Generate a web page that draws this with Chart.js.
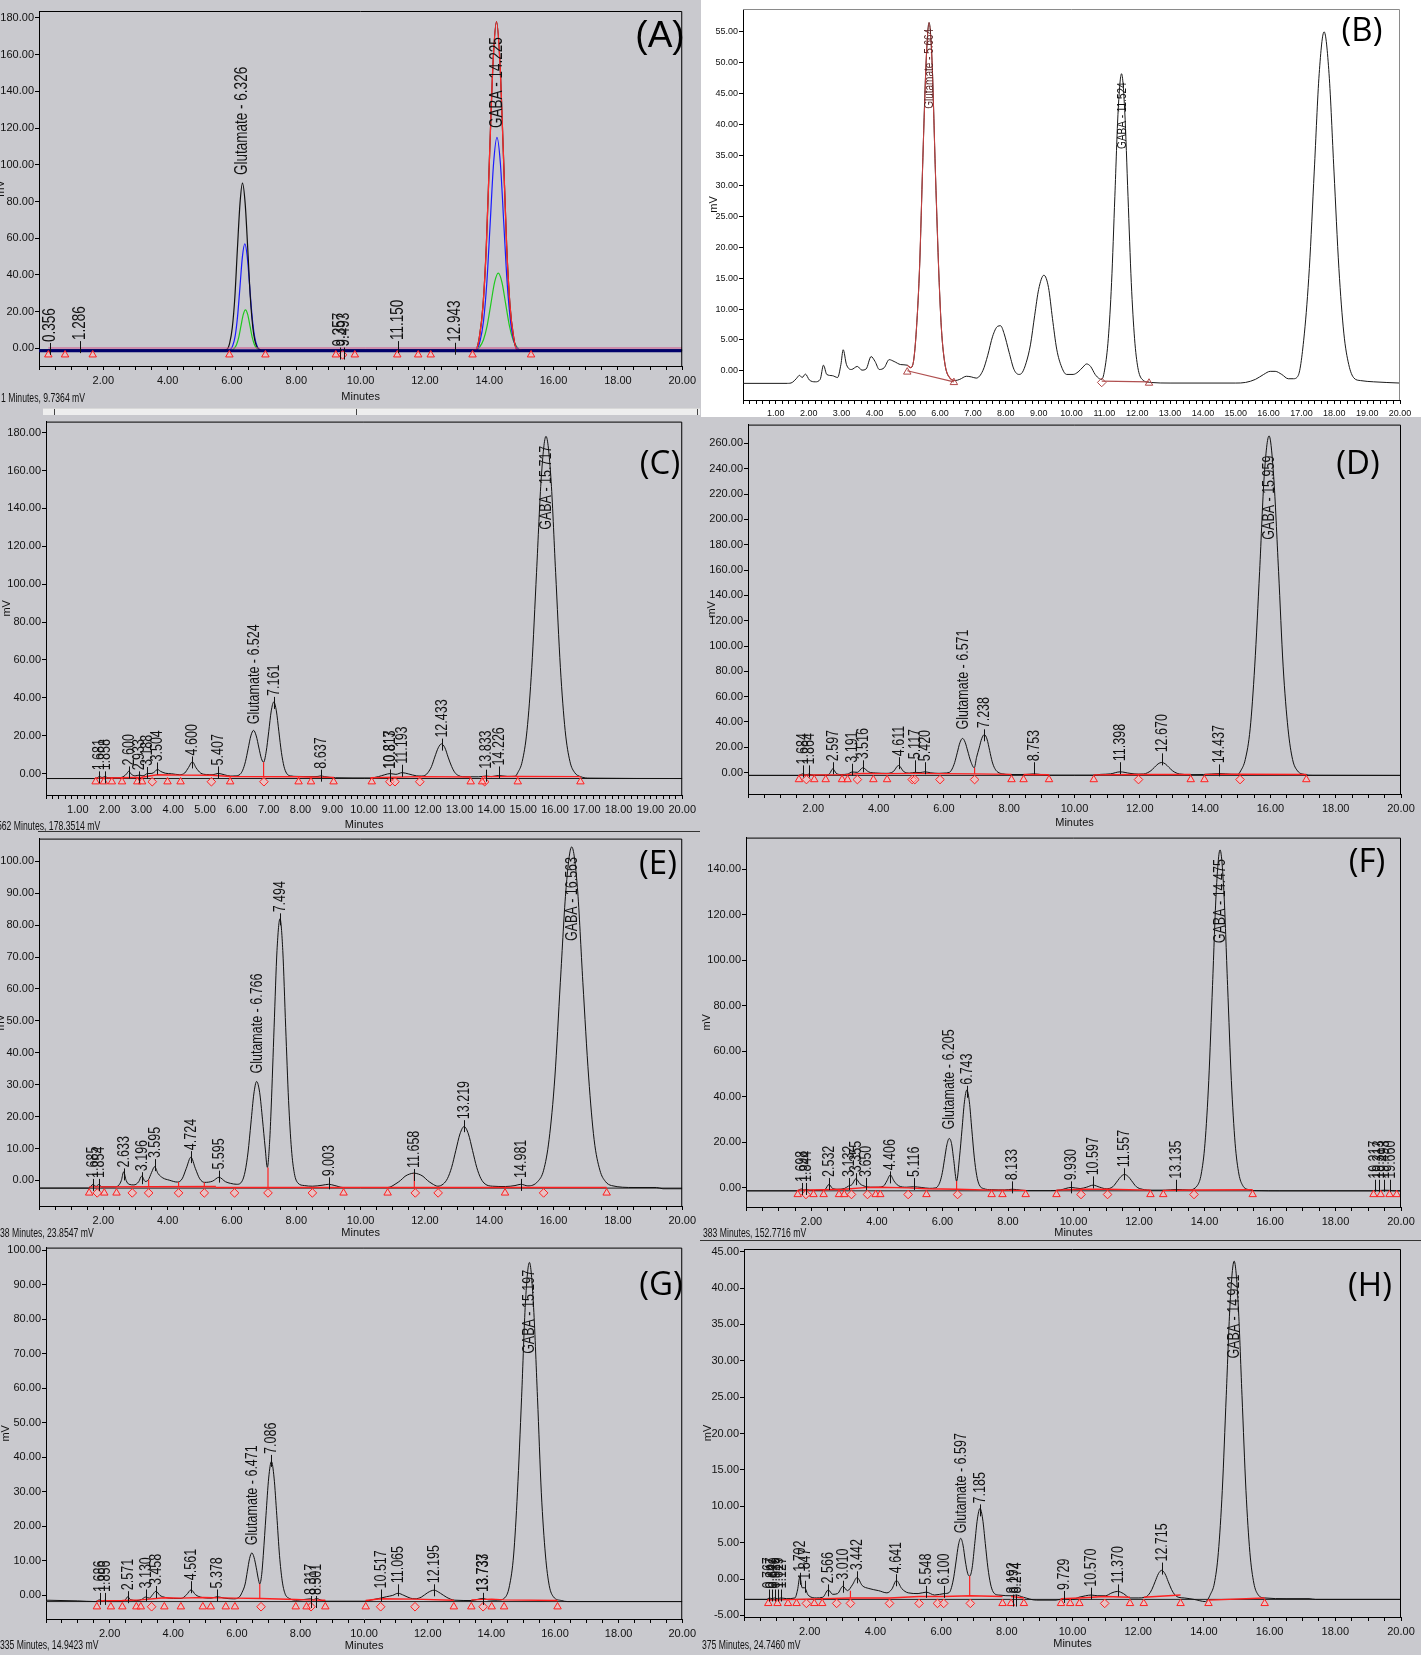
<!DOCTYPE html>
<html>
<head>
<meta charset="utf-8">
<script src="https://cdn.jsdelivr.net/npm/chart.js@4.4.1/dist/chart.umd.min.js"></script>
<style>
  body { margin: 0; width: 1421px; height: 1655px; background: #c9c9ce; position: relative; overflow: hidden; }
  .panel { position: absolute; }
  .panel canvas { display: block; }
  .line { position: absolute; background: #333; }
  .strip { position: absolute; left: 43px; top: 408px; width: 657px; height: 6px; background: #eeeeee; border-top: 1px solid #d8d8d8; }
  .strip i { position: absolute; top: 0; width: 1px; height: 6px; background: #444; }
</style>
</head>
<body>
<div class="panel" id="pA"><canvas></canvas></div>
<div class="panel" id="pB"><canvas></canvas></div>
<div class="panel" id="pC"><canvas></canvas></div>
<div class="panel" id="pD"><canvas></canvas></div>
<div class="panel" id="pE"><canvas></canvas></div>
<div class="panel" id="pF"><canvas></canvas></div>
<div class="panel" id="pG"><canvas></canvas></div>
<div class="panel" id="pH"><canvas></canvas></div>
<div class="strip"><i style="left:11px"></i><i style="left:313px"></i><i style="left:654px"></i></div>
<div class="line" style="left:38px;top:831px;width:662px;height:1px"></div>
<div class="line" style="left:700px;top:1240px;width:721px;height:1px"></div>
<script>
// ---- chromatogram data: [minutes, mV] ----

// (A) standards, four detector traces
const traceA_black = [[0,-1],[5.75,-1],[5.85,-0.5],[5.93,3],[6.01,11.3],[6.09,28],[6.17,54.5],[6.25,79],[6.326,90],[6.41,79],[6.49,54.5],[6.57,28],[6.65,11.3],[6.73,3],[6.85,-0.5],[7.0,-1],[13.55,-1],[13.6,-0.5],[13.7,6.9],[13.805,23.2],[13.91,56.3],[14.015,108],[14.12,156.5],[14.225,178],[14.33,156.5],[14.435,108],[14.54,56.3],[14.645,23.2],[14.75,6.9],[14.85,-0.5],[15.0,-1],[20,-1]];
const traceA_red = [[13.5,-1],[13.6,-0.5],[13.7,6.9],[13.805,23.2],[13.91,56.3],[14.015,108],[14.12,156.5],[14.225,178],[14.33,156.5],[14.435,108],[14.54,56.3],[14.645,23.2],[14.75,6.9],[14.85,-0.5],[15.0,-1]];
const traceA_blue = [[0,-1],[5.9,-1],[6.025,1.55],[6.1,6.8],[6.175,17.6],[6.25,33.8],[6.325,50],[6.4,57],[6.475,50],[6.55,33.8],[6.625,17.6],[6.7,6.8],[6.775,1.55],[6.9,-1],[13.6,-1],[13.715,4.1],[13.82,14.7],[13.925,36],[14.03,68.6],[14.135,101],[14.24,115],[14.345,101],[14.45,68.6],[14.555,36],[14.66,14.7],[14.765,4.1],[14.9,-0.5],[15.05,-1],[20,-1]];
const traceA_green = [[0,-1],[6.0,-1],[6.07,0],[6.14,2],[6.21,6],[6.28,12.2],[6.35,18.4],[6.42,21],[6.49,18.4],[6.56,12.2],[6.63,6],[6.7,2],[6.77,0],[6.9,-1],[13.6,-1],[13.705,0.8],[13.82,4.7],[13.935,12.4],[14.05,24.2],[14.165,36],[14.28,41],[14.395,36],[14.51,24.2],[14.625,12.4],[14.74,4.7],[14.855,0.8],[15.0,-1],[20,-1]];
const baseA_navy = [[0,-1.3],[20,-1.3]];
const baseA_pink = [[0.29,0.2],[20,0.2]];

// (B)
const traceB = [[0,-2.05],[1.35,-2.05],[1.5,-1.9],[1.62,-1.3],[1.72,-0.75],[1.8,-1.1],[1.9,-0.55],[2.02,-1.5],[2.2,-1.8],[2.35,-1.4],[2.45,0.9],[2.55,-0.6],[2.72,-0.8],[2.88,-1.1],[2.98,1.0],[3.05,3.4],[3.15,1.0],[3.3,0.2],[3.48,0.7],[3.62,0.1],[3.75,0.3],[3.9,2.3],[4.02,1.5],[4.15,0.2],[4.3,0.5],[4.45,1.8],[4.6,1.5],[4.8,1.0],[5.0,0.9],[5.1,0.5],[5.19,1.5],[5.28,6.8],[5.38,17.4],[5.47,33.5],[5.57,49.6],[5.664,56.5],[5.76,49.6],[5.85,33.5],[5.95,17.4],[6.04,6.8],[6.15,1.0],[6.3,-1.2],[6.45,-1.6],[6.6,-1.4],[6.8,-0.9],[6.95,-1.0],[7.1,-1.2],[7.3,0.0],[7.45,2.5],[7.6,5.6],[7.75,7.2],[7.84,7.3],[7.95,6.0],[8.1,3.0],[8.25,0.2],[8.4,-0.6],[8.5,-0.3],[8.62,1.3],[8.75,4.2],[8.88,9.0],[9.0,13.2],[9.16,15.5],[9.3,13.5],[9.42,8.5],[9.55,3.5],[9.7,0.6],[9.85,-0.6],[10.05,-0.6],[10.2,-0.2],[10.35,0.6],[10.46,1.1],[10.58,0.7],[10.72,-0.6],[10.85,-1.3],[10.92,-1.4],[11.02,0.5],[11.12,5.2],[11.22,14.3],[11.32,28.3],[11.42,42.2],[11.524,48.2],[11.62,42.2],[11.72,28.3],[11.82,14.3],[11.92,5.2],[12.02,0.5],[12.15,-1.4],[12.4,-1.9],[13,-2.0],[15.0,-2.0],[15.3,-1.9],[15.6,-1.4],[15.85,-0.6],[16.05,-0.1],[16.2,-0.1],[16.4,-0.6],[16.6,-1.3],[16.75,-1.3],[16.9,-0.8],[17.09,6.1],[17.24,16.6],[17.39,32.4],[17.54,48.2],[17.69,55.0],[17.84,48.2],[17.99,32.4],[18.14,16.6],[18.29,6.1],[18.44,1.0],[18.6,-1.2],[18.8,-1.6],[19.2,-1.8],[20,-2.0]];
const traceB_red = [[5.0,0.9],[5.1,0.5],[5.19,1.5],[5.28,6.8],[5.38,17.4],[5.47,33.5],[5.57,49.6],[5.664,56.5],[5.76,49.6],[5.85,33.5],[5.95,17.4],[6.04,6.8],[6.15,1.0],[6.3,-1.2],[6.45,-1.6]];

// (C)
const traceC = [[0,-2.6],[1.55,-2.6],[1.63,-2.0],[1.681,-1.5],[1.76,-2.1],[1.858,-1.6],[1.95,-2.2],[2.3,-2.2],[2.45,-1.4],[2.53,-0.2],[2.6,1.2],[2.68,-0.3],[2.8,-1.2],[2.933,-0.8],[3.05,-1.2],[3.188,0.0],[3.33,0.1],[3.42,1.0],[3.504,2.2],[3.6,1.2],[3.75,0.2],[3.95,-0.1],[4.2,-0.6],[4.36,0.3],[4.48,3.2],[4.6,6.2],[4.72,3.0],[4.86,0.3],[5.05,-0.5],[5.25,-0.6],[5.407,0.1],[5.6,-0.6],[5.8,-1.3],[5.95,-1.2],[6.099,-0.4],[6.184,1.8],[6.269,6.3],[6.354,13.1],[6.439,19.9],[6.524,22.8],[6.609,19.9],[6.694,13.5],[6.77,8.0],[6.84,6.0],[6.921,11.5],[7.001,22.1],[7.081,33.1],[7.161,37.8],[7.241,33.1],[7.321,22.1],[7.401,11.1],[7.481,3.8],[7.561,0.2],[7.68,-1.2],[7.9,-1.5],[8.3,-1.6],[8.55,-1.5],[8.637,-1.2],[8.75,-1.6],[9.1,-2.2],[10.2,-2.3],[10.45,-1.6],[10.65,-0.6],[10.817,0.0],[11.0,-0.4],[11.193,0.5],[11.4,-0.2],[11.65,-1.2],[11.8,-1.3],[11.91,-1.0],[12.01,0.6],[12.12,3.8],[12.22,8.7],[12.33,13.6],[12.433,15.7],[12.54,13.6],[12.64,8.7],[12.75,3.8],[12.85,0.6],[12.96,-1.0],[13.1,-1.6],[13.6,-1.7],[13.833,-1.3],[14.0,-1.6],[14.226,-1.0],[14.5,-1.5],[14.75,-1.4],[14.83,0.5],[14.97,6.4],[15.12,22.7],[15.27,55.9],[15.42,106.2],[15.57,156.5],[15.717,178],[15.87,156.5],[16.02,106.2],[16.17,55.9],[16.32,22.7],[16.47,6.4],[16.62,0.5],[16.8,-1.6],[17.1,-2.4],[20,-2.6]];

// (D)
const traceD = [[0,-2.2],[1.55,-2.2],[1.684,-1.0],[1.77,-1.8],[1.864,-1.2],[2.0,-2.0],[2.4,-2.0],[2.5,-0.8],[2.597,3.0],[2.7,-0.5],[2.85,-1.5],[3.05,-1.2],[3.191,0.5],[3.35,0.2],[3.516,3.8],[3.7,0.5],[3.9,-0.3],[4.25,-0.6],[4.45,0.8],[4.611,5.6],[4.77,0.8],[4.95,-0.4],[5.117,0.2],[5.27,0.0],[5.42,0.6],[5.6,-0.2],[5.85,-0.6],[6.0,-0.4],[6.17,0.2],[6.25,2.8],[6.33,8.0],[6.41,15.8],[6.49,23.6],[6.571,27],[6.65,24],[6.73,17],[6.82,9],[6.93,3.8],[7.0,12],[7.08,19.5],[7.16,27],[7.238,30],[7.32,26.5],[7.4,17.5],[7.48,8.5],[7.56,3.2],[7.65,0.4],[7.8,-1.0],[8.0,-1.5],[8.5,-1.5],[8.753,-1.0],[9.0,-1.6],[9.2,-2.0],[10.55,-2.0],[10.8,-1.4],[11.1,-1.0],[11.398,0.6],[11.7,-0.6],[11.95,-1.2],[12.12,-1.1],[12.23,-0.2],[12.34,1.5],[12.45,4.2],[12.56,6.9],[12.67,8.0],[12.78,6.9],[12.89,4.2],[13.0,1.5],[13.11,-0.2],[13.22,-1.1],[13.55,-1.6],[13.95,-1.5],[14.437,-0.8],[14.8,-1.3],[15.0,-1.4],[15.09,1.4],[15.23,10.3],[15.38,34.6],[15.52,84.1],[15.67,159],[15.81,234],[15.959,266],[16.1,234],[16.25,159],[16.39,84.1],[16.54,34.6],[16.68,10.3],[16.83,1.4],[17.05,-1.5],[17.3,-2.1],[20,-2.2]];

// (E)
const traceE = [[0,-2.4],[1.55,-2.4],[1.685,-1.2],[1.77,-1.9],[1.854,-1.3],[1.95,-2.0],[2.35,-2.0],[2.48,-1.5],[2.56,0.0],[2.633,2.7],[2.71,0.0],[2.8,-1.2],[2.95,-1.4],[3.1,-0.4],[3.196,1.4],[3.3,-0.3],[3.4,0.2],[3.5,2.5],[3.595,4.3],[3.7,2.2],[3.85,0.8],[4.05,0.1],[4.3,-0.5],[4.45,0.5],[4.58,3.8],[4.724,7.3],[4.86,3.8],[5.0,0.5],[5.15,-0.6],[5.4,-0.2],[5.595,1.0],[5.8,-0.4],[5.95,-0.9],[6.15,-1.2],[6.32,-0.1],[6.41,2.9],[6.5,8.9],[6.59,18],[6.68,27.1],[6.766,31],[6.86,27.6],[6.95,19],[7.03,10.5],[7.1,4.1],[7.17,12],[7.22,23],[7.31,48],[7.4,72],[7.494,82],[7.58,72],[7.67,48],[7.76,25],[7.85,9.8],[7.94,2.2],[8.05,-0.8],[8.25,-1.6],[8.5,-1.8],[8.8,-1.5],[9.003,-1.2],[9.2,-1.6],[9.45,-2.2],[10.85,-2.2],[11.1,-1.0],[11.24,0.0],[11.38,1.3],[11.52,2.0],[11.658,2.3],[11.8,2.0],[11.94,1.3],[12.08,0.0],[12.22,-1.0],[12.4,-1.8],[12.57,-1.1],[12.7,0.6],[12.83,4.1],[12.96,9.4],[13.09,14.6],[13.219,16.9],[13.35,14.6],[13.48,9.4],[13.61,4.1],[13.74,0.6],[13.87,-1.1],[14.1,-1.8],[14.5,-1.9],[14.8,-1.6],[14.981,-1.2],[15.2,-1.7],[15.51,-0.3],[15.69,3.2],[15.86,12.8],[16.04,32.4],[16.21,62.1],[16.39,91.8],[16.563,104.5],[16.74,91.8],[16.91,62.1],[17.09,32.4],[17.26,12.8],[17.44,3.2],[17.61,-0.3],[17.8,-1.6],[18.5,-2.2],[19.2,-2.2],[19.4,-2.6],[20,-2.6]];

// (F)
const traceF = [[0,-1.3],[1.55,-1.3],[1.698,-0.5],[1.77,-1.0],[1.844,-0.6],[1.95,-1.1],[2.3,-1.0],[2.42,-0.6],[2.532,1.5],[2.64,-0.2],[2.8,-0.6],[3.0,-0.3],[3.132,0.8],[3.24,1.5],[3.355,4.0],[3.48,1.8],[3.65,0.6],[3.8,0.3],[4.0,0.3],[4.2,0.8],[4.3,3.0],[4.406,5.7],[4.52,3.0],[4.65,1.0],[4.9,0.3],[5.116,0.5],[5.35,0.2],[5.6,-0.2],[5.8,0.0],[5.855,0.7],[5.925,2.7],[5.995,6.7],[6.065,12.9],[6.135,19],[6.205,21.7],[6.275,19.5],[6.345,12],[6.43,3.0],[6.52,13.5],[6.595,25.6],[6.67,37.8],[6.743,43],[6.82,37.8],[6.895,25.6],[6.97,13.5],[7.045,5.4],[7.12,1.4],[7.25,-0.3],[7.5,-0.8],[7.9,-0.9],[8.133,-0.6],[8.4,-1.0],[8.6,-1.2],[9.3,-1.2],[9.6,-0.9],[9.93,0.2],[10.2,-0.3],[10.4,0.3],[10.597,1.2],[10.8,0.3],[11.0,-0.4],[11.2,0.5],[11.35,3.2],[11.45,5.0],[11.557,5.9],[11.67,5.0],[11.77,3.2],[11.92,0.5],[12.1,-0.6],[12.4,-1.0],[12.8,-1.0],[13.135,-0.7],[13.5,-0.9],[13.785,1.1],[13.9,6.1],[14.015,19.6],[14.13,47.2],[14.245,88.9],[14.36,130.6],[14.475,148.5],[14.59,130.6],[14.705,88.9],[14.82,47.2],[14.935,19.6],[15.05,6.1],[15.165,1.1],[15.35,-0.8],[15.6,-1.2],[16.3,-1.3],[19.15,-1.3],[19.217,-1.0],[19.3,-1.2],[19.493,-1.0],[19.66,-1.1],[19.8,-1.3],[20,-1.3]];

// (G)
const traceG = [[0,-1.4],[1.0,-1.6],[1.55,-1.8],[1.686,-1.3],[1.77,-1.7],[1.856,-1.4],[1.95,-1.8],[2.4,-1.8],[2.5,-1.2],[2.571,-0.4],[2.65,-1.2],[2.85,-1.5],[3.0,-1.2],[3.13,-0.5],[3.25,-0.8],[3.35,0.2],[3.458,1.2],[3.58,0.0],[3.75,-0.6],[4.0,-0.9],[4.25,-0.9],[4.42,0.2],[4.561,1.6],[4.7,0.2],[4.9,-0.6],[5.2,-0.8],[5.378,-0.4],[5.6,-0.8],[5.9,-1.0],[6.085,-0.4],[6.16,0.8],[6.26,3.3],[6.33,7],[6.4,10.7],[6.471,12.3],[6.54,11.0],[6.61,8.0],[6.68,4.5],[6.72,3.3],[6.78,6.0],[6.83,11.6],[6.915,23.2],[7.0,34],[7.086,38.8],[7.17,34],[7.255,23.2],[7.34,11.6],[7.425,4.2],[7.51,0.6],[7.65,-0.9],[7.9,-1.4],[8.317,-1.0],[8.4,-1.3],[8.501,-0.9],[8.65,-1.4],[8.8,-1.7],[10.0,-1.7],[10.3,-1.2],[10.517,-0.8],[10.7,-0.4],[10.9,0.0],[11.065,0.6],[11.25,0.0],[11.45,-0.8],[11.6,-1.0],[11.8,-0.5],[12.0,0.8],[12.195,1.5],[12.4,0.6],[12.6,-0.6],[12.85,-1.4],[13.37,-1.5],[13.55,-1.2],[13.735,-0.9],[13.9,-1.3],[14.2,-1.4],[14.45,-0.4],[14.57,2.8],[14.7,11.7],[14.82,29.9],[14.95,57.3],[15.07,84.7],[15.197,96.5],[15.32,84.7],[15.45,57.3],[15.57,29.9],[15.7,11.7],[15.82,2.8],[15.95,-0.4],[16.2,-1.5],[16.4,-1.8],[20,-1.8]];

// (H)
const traceH = [[0,-2.8],[0.7,-2.8],[0.767,-2.6],[0.85,-2.7],[0.93,-2.6],[1.02,-2.7],[1.127,-2.6],[1.3,-2.7],[1.55,-2.6],[1.63,-1.5],[1.702,0.3],[1.77,-1.2],[1.847,-1.2],[1.95,-2.2],[2.2,-2.6],[2.4,-2.5],[2.566,-1.5],[2.7,-2.1],[2.85,-2.0],[3.01,-1.0],[3.15,-1.6],[3.3,-0.8],[3.442,0.2],[3.6,-0.9],[3.8,-1.3],[4.1,-1.6],[4.35,-1.9],[4.5,-1.4],[4.641,-0.2],[4.8,-1.3],[5.0,-1.9],[5.3,-2.0],[5.548,-1.8],[5.8,-2.2],[6.1,-2.0],[6.247,-1.86],[6.317,-1.15],[6.387,0.3],[6.457,2.48],[6.527,4.66],[6.597,5.6],[6.667,4.66],[6.737,2.48],[6.807,0.8],[6.87,0.4],[6.945,1.54],[7.025,4.9],[7.105,8.26],[7.185,9.7],[7.265,8.26],[7.345,4.9],[7.425,1.54],[7.505,-0.68],[7.585,-1.77],[7.75,-2.2],[8.192,-2.3],[8.274,-2.2],[8.5,-2.5],[8.9,-2.9],[9.5,-2.9],[9.729,-2.7],[10.0,-2.8],[10.2,-2.5],[10.4,-2.3],[10.57,-2.2],[10.75,-2.3],[11.0,-2.3],[11.2,-1.9],[11.37,-1.7],[11.55,-2.0],[11.75,-2.6],[12.0,-2.6],[12.215,-2.5],[12.315,-2.17],[12.415,-1.45],[12.515,-0.36],[12.615,0.73],[12.715,1.2],[12.815,0.73],[12.915,-0.36],[13.015,-1.45],[13.115,-2.17],[13.215,-2.5],[13.4,-2.6],[13.7,-2.8],[14.05,-3.1],[14.2,-2.09],[14.32,-0.56],[14.44,3.65],[14.56,12.2],[14.68,25.2],[14.8,38.1],[14.921,43.7],[15.04,38.1],[15.16,25.2],[15.28,12.2],[15.4,3.65],[15.52,-0.56],[15.64,-2.09],[15.85,-2.6],[16.5,-2.7],[17.2,-2.7],[17.4,-2.8],[20,-2.8]];

// ---- peak labels: [minutes, mV where text starts, text] ----
const labelsA = [[0.356,3.5,'0.356'],[1.286,4.5,'1.286'],[6.326,94.5,'Glutamate - 6.326'],[9.357,1,'9.357'],[9.493,1,'9.493'],[11.15,4.5,'11.150'],[12.943,3.6,'12.943'],[14.225,120,'GABA - 14.225']];
const labelsB = [[5.664,42.5,'Glutamate - 5.664'],[11.524,36,'GABA - 11.524']];
const labelsC = [[1.681,1.7,'1.681'],[1.858,1.7,'1.858'],[2.6,4.3,'2.600'],[2.933,1.7,'2.933'],[3.188,4,'3.188'],[3.504,6.4,'3.504'],[4.6,9.6,'4.600'],[5.407,4.3,'5.407'],[6.524,26,'Glutamate - 6.524'],[7.161,41,'7.161'],[8.637,2.6,'8.637'],[10.813,2.6,'10.813'],[10.817,2.6,'10.817'],[11.193,5.2,'11.193'],[12.433,19,'12.433'],[13.833,2.6,'13.833'],[14.226,4.3,'14.226'],[15.717,128.7,'GABA - 15.717']];
const labelsD = [[1.684,6.5,'1.684'],[1.864,6.5,'1.864'],[2.597,9,'2.597'],[3.191,7.8,'3.191'],[3.516,10.5,'3.516'],[4.611,13,'4.611'],[5.117,10.5,'5.117'],[5.42,9,'5.420'],[6.571,34,'Glutamate - 6.571'],[7.238,35,'7.238'],[8.753,9,'8.753'],[11.398,9,'11.398'],[12.67,16,'12.670'],[14.437,7.3,'14.437'],[15.959,184,'GABA - 15.959']];
const labelsE = [[1.685,0.8,'1.685'],[1.854,0.8,'1.854'],[2.633,4.1,'2.633'],[3.196,2.9,'3.196'],[3.595,7,'3.595'],[4.724,9.5,'4.724'],[5.595,3.4,'5.595'],[6.766,33.5,'Glutamate - 6.766'],[7.494,84,'7.494'],[9.003,1.3,'9.003'],[11.658,3.9,'11.658'],[13.219,19.2,'13.219'],[14.981,0.8,'14.981'],[16.563,75,'GABA - 16.563']];
const labelsF = [[1.698,2.6,'1.698'],[1.844,2.6,'1.844'],[2.532,4.8,'2.532'],[3.132,4.8,'3.132'],[3.355,6.9,'3.355'],[3.65,4.8,'3.650'],[4.406,7.7,'4.406'],[5.116,4.8,'5.116'],[6.205,25.7,'Glutamate - 6.205'],[6.743,45.3,'6.743'],[8.133,3.3,'8.133'],[9.93,3.3,'9.930'],[10.597,5.5,'10.597'],[11.557,9.1,'11.557'],[13.135,4,'13.135'],[14.475,107.5,'GABA - 14.475'],[19.217,4,'19.217'],[19.313,4,'19.313'],[19.493,4,'19.493'],[19.66,4,'19.660']];
const labelsG = [[1.686,1,'1.686'],[1.856,1,'1.856'],[2.571,1.5,'2.571'],[3.13,2,'3.130'],[3.458,3,'3.458'],[4.561,4.4,'4.561'],[5.378,2,'5.378'],[6.471,14.5,'Glutamate - 6.471'],[7.086,41,'7.086'],[8.317,0.1,'8.317'],[8.501,0.1,'8.501'],[10.517,2,'10.517'],[11.065,3.5,'11.065'],[12.195,3.5,'12.195'],[13.733,1,'13.733'],[13.737,1,'13.737'],[15.197,70,'GABA - 15.197']];
const labelsH = [[0.767,-1.3,'0.767'],[0.85,-1.3,'0.847'],[0.93,-1.3,'0.929'],[1.02,-1.3,'1.019'],[1.127,-1.3,'1.127'],[1.702,1.0,'1.702'],[1.847,-0.1,'1.847'],[2.566,-0.6,'2.566'],[3.01,-0.1,'3.010'],[3.442,1.2,'3.442'],[4.641,0.8,'4.641'],[5.548,-0.8,'5.548'],[6.1,-0.8,'6.100'],[6.597,6.3,'Glutamate - 6.597'],[7.185,10.4,'7.185'],[8.192,-2.0,'8.192'],[8.274,-2.0,'8.274'],[9.729,-1.5,'9.729'],[10.57,-1.05,'10.570'],[11.37,-0.6,'11.370'],[12.715,2.4,'12.715'],[14.921,30.3,'GABA - 14.921']];

// ---- integration marks ----
const triA = [0.29,0.81,1.67,5.92,7.04,9.23,9.82,11.14,11.79,12.18,13.48,15.3];
const diaA = [9.44];
const triB = [[5.0,-0.2],[6.42,-1.9],[12.36,-2.0]];
const diaB = [[10.92,-1.9]];
const triC = [1.56,1.82,2.07,2.39,2.87,3.02,3.82,4.23,5.79,7.94,8.33,9.04,10.24,13.35,13.71,14.83,16.8];
const diaC = [3.34,5.2,6.85,10.81,10.97,11.75,13.79];
const triD = [1.56,2.03,2.38,2.88,3.05,3.84,4.26,8.07,8.44,9.22,10.59,13.56,13.98,17.1];
const diaD = [1.79,3.35,5.03,5.11,5.88,6.94,11.96,15.07];
const triE = [1.56,2.03,2.41,9.47,10.84,14.49,17.65];
const diaE = [1.81,2.9,3.41,4.34,5.14,6.08,7.12,8.5,11.7,12.41,15.69];
const triF = [1.58,2.06,2.37,2.84,3.0,3.96,4.1,5.51,7.5,7.83,8.54,9.48,12.35,12.74,15.47,19.16,19.38,19.65,19.87];
const diaF = [1.83,3.22,3.71,4.95,6.46,10.23,11.04,13.68];
const triG = [1.6,2.04,2.4,2.84,2.98,3.72,4.24,4.93,5.18,5.65,5.94,7.85,8.19,8.78,10.05,12.82,13.37,14.01,14.4,16.08];
const diaG = [3.32,6.76,8.33,10.52,11.6,13.74];
const triH = [0.74,1.02,1.34,1.6,2.14,2.38,7.87,8.13,8.52,9.65,9.93,10.21,11.75,12.17,13.29,14.14,15.85];
const diaH = [1.9,2.82,3.24,4.43,5.33,5.89,6.08,6.89,10.98];

// integration baselines (segments) and drop lines [minutes, from, to]
const redB = [[[5.0,0.0],[6.42,-1.8]],[[10.92,-1.7],[12.36,-1.8]]];
const redC = [[[1.55,-2.4],[2.4,-2.2],[3.0,-1.9],[3.5,-0.6],[4.2,-0.8],[5.2,-0.9],[5.8,-1.5],[7.9,-1.7],[8.3,-1.8],[9.05,-2.0]],[[10.2,-2.2],[11.75,-1.6],[13.35,-1.8]],[[13.7,-1.6],[14.83,-1.5],[16.8,-1.6]]];
const redD = [[[1.56,-2.0],[3.0,-1.6],[3.5,-0.6],[4.26,-0.8],[5.1,-0.6],[5.88,-0.8],[6.94,-1.0],[8.07,-1.4]],[[8.44,-1.5],[9.22,-1.7]],[[10.59,-1.8],[11.96,-1.5],[13.56,-1.5]],[[13.98,-1.4],[15.07,-1.3],[17.1,-1.5]]];
const redE = [[[1.56,-2.0],[5.5,-1.9]],[[5.5,-2.2],[17.65,-2.2]]];
const redF = [[[1.58,-1.0],[2.37,-0.8],[3.0,-0.6],[3.71,0.2],[4.1,0.3],[4.95,0.0],[5.51,-0.4],[6.46,-0.6],[7.5,-1.0],[7.83,-1.0],[8.54,-1.1]],[[9.48,-1.0],[10.23,-0.6],[11.04,-0.6],[12.35,-1.0]],[[12.74,-1.1],[13.68,-0.9],[15.47,-0.8]]];
const redG = [[[1.6,-1.6],[2.4,-1.5],[2.98,-1.3],[3.72,-0.7],[4.24,-0.8],[4.93,-0.6],[5.94,-0.8],[6.76,-0.9],[7.85,-1.2],[8.19,-1.3],[8.78,-1.4]],[[10.05,-1.5],[10.52,-1.0],[11.6,-1.1],[12.82,-1.4]],[[13.37,-1.3],[14.01,-1.1],[14.4,-1.3],[16.08,-1.5]]];
const redH = [[[0.74,-2.9],[1.6,-2.8],[2.38,-2.7],[3.24,-2.6],[4.43,-2.6],[5.33,-2.4],[6.08,-2.4],[6.89,-2.3],[7.87,-2.4]],[[8.13,-2.4],[8.52,-2.6]],[[9.65,-2.7],[10.21,-2.6],[10.98,-2.4],[11.75,-2.5]],[[12.17,-2.5],[13.29,-2.2]],[[14.14,-2.9],[15.85,-2.6]]];
const dropC = [[6.84,6.0,-1.6]];
const dropD = [[6.94,3.8,-1.0]];
const dropE = [[3.41,0.2,-2.0],[4.34,-0.5,-2.0],[5.14,-0.6,-2.0],[7.12,4.1,-2.2],[11.67,2.3,-2.2]];
const dropF = [[6.43,3.0,-0.6]];
const dropG = [[6.72,3.3,-0.9]];
const dropH = [[3.24,-1.6,-2.6],[6.87,0.4,-2.3]];

// ---- layout / style per panel ----
const FONT = "'Liberation Sans', Arial, sans-serif";
const GRAY = '#c9c9ce';
const RED = '#ff2020';

function pts(arr) { return arr.map(p => ({x: p[0], y: p[1]})); }
function segs(list) {
    const out = [];
    list.forEach((s, i) => {
        if (i) out.push({x: s[0][0], y: null});
        s.forEach(p => out.push({x: p[0], y: p[1]}));
    });
    return out;
}
function drops(list) {
    const out = [];
    list.forEach(d => out.push({x: d[0], y: d[1]}, {x: d[0], y: d[2]}, {x: d[0], y: null}));
    return out;
}
function marks(list, y) { return list.map(t => Array.isArray(t) ? {x: t[0], y: t[1]} : {x: t, y: y}); }

function trace(arr, color, w) {
    return {data: pts(arr), borderColor: color, borderWidth: w || 1, pointRadius: 0, cubicInterpolationMode: 'monotone', fill: false};
}
function straight(data, color, w) {
    return {data: data, borderColor: color, borderWidth: w || 1, pointRadius: 0, fill: false, spanGaps: false};
}
function markerSet(data, style, color, fillc) {
    return {data: data, showLine: false, pointStyle: style, pointRadius: 4.3, pointBorderWidth: 1,
            pointBorderColor: color, pointBackgroundColor: fillc};
}
const TRI_FILL = 'rgba(255,190,190,0.55)';

// standard detector panels (C..H)
function stdSets(tr, red, drop, tri, dia, my, base) {
    return [
        markerSet(marks(tri, my), 'triangle', RED, TRI_FILL),
        markerSet(marks(dia, my), 'rectRot', RED, TRI_FILL),
        straight(drops(drop), RED, 1.2),
        straight(segs(red), RED, 1.4),
        trace(tr, '#101010', 1),
        straight([{x: 0, y: base}, {x: 20, y: base}], '#202020', 1)
    ];
}

const panels = [
    {id: 'A', box: [0, 0, 700, 407], area: [39, 11, 697, 366], y: [-9.6, 183.8], yStep: 20, xStep: 0.5, xLab: 2,
     tick: 11, lab: 13.5, yTitlePad: -5, xTitlePad: 5, bg: GRAY, labels: labelsA,
     letter: ['(A)', 660, 37, "37px 'Liberation Sans', Arial, sans-serif"], status: ['1 Minutes, 9.7364 mV', 1, 399],
     sets: [
        markerSet(marks(triA, -3.5), 'triangle', RED, TRI_FILL),
        markerSet(marks(diaA, -3.5), 'rectRot', RED, TRI_FILL),
        straight(pts(baseA_navy), '#00006a', 3),
        straight(pts(baseA_pink), '#d0508a', 1),
        trace(traceA_red, '#ff2a2a', 1.3),
        trace(traceA_black, '#101010', 1.2),
        trace(traceA_blue, '#1a1aff', 1.2),
        trace(traceA_green, '#1ec81e', 1.2)
     ]},
    {id: 'B', box: [701, 0, 720, 417], area: [743, 9, 1400, 400], y: [-4.75, 58.7], yStep: 5, xStep: 0.2, xLab: 1,
     tick: 9, lab: 10, yTitlePad: 7, xTitle: false, bg: '#ffffff', frame: '#8a8a8a', labels: labelsB, labColor: ['#5a2424', '#111'],
     letter: ['(B)', 661, 32, "33px 'Open Sans', sans-serif"],
     sets: [
        markerSet(marks(triB, 0), 'triangle', '#b04848', 'rgba(255,255,255,0)'),
        markerSet(marks(diaB, 0), 'rectRot', '#b04848', 'rgba(255,255,255,0)'),
        straight(segs(redB), '#b05050', 1.2),
        trace(traceB_red, '#c04040', 1.1),
        trace(traceB, '#1a1a1a', 1)
     ]},
    {id: 'C', box: [0, 414, 700, 417], area: [46, 421, 697, 795], y: [-11.3, 185.8], yStep: 20, xStep: 0.2, xLab: 1,
     tick: 11, lab: 12.5, yTitlePad: 1, xTitlePad: 1, bg: GRAY, labels: labelsC,
     letter: ['(C)', 660, 51, "33px 'Open Sans', sans-serif"], status: ['562 Minutes, 178.3514 mV', -3, 413],
     sets: stdSets(traceC, redC, dropC, triC, diaC, -4.3, -2.6)},
    {id: 'D', box: [701, 417, 720, 413], area: [748, 422, 1401, 794], y: [-16.9, 274.9], yStep: 20, xStep: 0.5, xLab: 2,
     tick: 11, lab: 12.5, yTitlePad: 5, xTitlePad: 2, bg: GRAY, labels: labelsD,
     letter: ['(D)', 657, 48, "33px 'Open Sans', sans-serif"],
     sets: stdSets(traceD, redD, dropD, triD, diaD, -5.5, -2.2)},
    {id: 'E', box: [0, 831, 700, 409], area: [39, 832, 697, 1206], y: [-8, 107.1], yStep: 10, xStep: 0.5, xLab: 2,
     tick: 11, lab: 12.5, yTitlePad: -5, xTitlePad: 2, bg: GRAY, labels: labelsE,
     letter: ['(E)', 658, 34, "33px 'Open Sans', sans-serif"], status: ['38 Minutes, 23.8547 mV', 0, 403],
     sets: stdSets(traceE, redE, dropE, triE, diaE, -3.9, -2.4)},
    {id: 'F', box: [701, 830, 720, 410], area: [746, 833, 1401, 1207], y: [-8.4, 153.9], yStep: 20, xStep: 0.5, xLab: 2,
     tick: 11, lab: 12.5, yTitlePad: 0, xTitlePad: 2, bg: GRAY, labels: labelsF,
     letter: ['(F)', 666, 33, "33px 'Open Sans', sans-serif"], status: ['383 Minutes, 152.7716 mV', 2, 404],
     sets: stdSets(traceF, redF, dropF, triF, diaF, -2.9, -1.3)},
    {id: 'G', box: [0, 1240, 700, 415], area: [46, 1246, 697, 1619], y: [-6.85, 100.8], yStep: 10, xStep: 0.5, xLab: 2,
     tick: 11, lab: 12.5, yTitlePad: 0, xTitlePad: 4, bg: GRAY, labels: labelsG,
     letter: ['(G)', 661, 46, "33px 'Open Sans', sans-serif"], status: ['335 Minutes, 14.9423 mV', 0, 406],
     sets: stdSets(traceG, redG, dropG, triG, diaG, -3.3, -1.8)},
    {id: 'H', box: [701, 1240, 720, 415], area: [744, 1249, 1401, 1617], y: [-5.22, 45.37], yStep: 5, xStep: 0.5, xLab: 2,
     tick: 11, lab: 12.5, yTitlePad: 1, xTitlePad: 6, bg: GRAY, labels: labelsH,
     letter: ['(H)', 669, 47, "33px 'Open Sans', sans-serif"], status: ['375 Minutes, 24.7460 mV', 1, 406],
     sets: stdSets(traceH, redH, dropH, triH, diaH, -3.35, -2.8)}
];

const panelOf = new WeakMap();

// background, frame, rotated peak labels, panel letter and status line
const decor = {
    id: 'decor',
    beforeDraw(chart) {
        const p = panelOf.get(chart.canvas);
        const ctx = chart.ctx;
        ctx.save();
        ctx.fillStyle = p.bg;
        ctx.fillRect(0, 0, chart.width, chart.height);
        ctx.restore();
    },
    afterDatasetsDraw(chart) {
        const p = panelOf.get(chart.canvas);
        const ctx = chart.ctx, xs = chart.scales.x, ys = chart.scales.y, a = chart.chartArea;
        ctx.save();
        ctx.strokeStyle = p.frame || '#000';
        ctx.lineWidth = 1;
        ctx.beginPath();
        ctx.moveTo(a.left, a.top + 0.5); ctx.lineTo(a.right - 0.5, a.top + 0.5); ctx.lineTo(a.right - 0.5, a.bottom);
        ctx.stroke();
        ctx.font = p.lab + 'px ' + FONT;
        ctx.textAlign = 'left';
        ctx.textBaseline = 'middle';
        p.labels.forEach((l, i) => {
            const px = Math.round(xs.getPixelForValue(l[0])) + 0.5;
            const py = ys.getPixelForValue(l[1]);
            if (l[2].length < 8) {
                ctx.strokeStyle = '#111';
                ctx.beginPath();
                ctx.moveTo(px, py + 1);
                ctx.lineTo(px, py + 13);
                ctx.stroke();
            }
            ctx.save();
            ctx.translate(px, py);
            ctx.rotate(-Math.PI / 2);
            ctx.scale(1, 1.3);
            ctx.fillStyle = p.labColor ? p.labColor[i] : '#111';
            ctx.fillText(l[2], 0, 0);
            ctx.restore();
        });
        ctx.restore();
    },
    afterDraw(chart) {
        const p = panelOf.get(chart.canvas);
        const ctx = chart.ctx;
        ctx.save();
        ctx.fillStyle = '#000';
        ctx.textAlign = 'center';
        ctx.textBaseline = 'middle';
        ctx.font = p.letter[3];
        ctx.fillText(p.letter[0], p.letter[1], p.letter[2]);
        if (p.status) {
            ctx.font = '12px ' + FONT;
            ctx.textAlign = 'left';
            ctx.fillStyle = '#111';
            ctx.translate(p.status[1], p.status[2]);
            ctx.scale(0.72, 1);
            ctx.fillText(p.status[0], 0, 0);
        }
        ctx.restore();
    }
};

panels.forEach(p => {
    const el = document.getElementById('p' + p.id);
    el.style.left = p.box[0] + 'px';
    el.style.top = p.box[1] + 'px';
    const cv = el.querySelector('canvas');
    cv.width = p.box[2];
    cv.height = p.box[3];
    panelOf.set(cv, p);
    const padL = p.area[0] - p.box[0];
    const padT = p.area[1] - p.box[1];
    const padR = p.box[0] + p.box[2] - p.area[2];
    const padB = p.box[1] + p.box[3] - p.area[3];
    const tickFont = {family: FONT, size: p.tick};

    new Chart(cv, {
        type: 'line',
        data: {datasets: p.sets},
        options: {
            responsive: false,
            animation: false,
            events: [],
            layout: {autoPadding: false, padding: {top: padT, right: padR, left: 0, bottom: 0}},
            plugins: {legend: {display: false}, tooltip: {enabled: false}},
            scales: {
                x: {
                    type: 'linear', min: 0, max: 20,
                    afterFit(s) { s.height = padB; },
                    grid: {drawOnChartArea: false, tickLength: 4, color: '#000'},
                    border: {color: '#000'},
                    ticks: {
                        stepSize: p.xStep, includeBounds: false, autoSkip: false, maxRotation: 0, padding: 4,
                        color: '#111', font: tickFont,
                        callback: v => {
                            const k = v / p.xLab;
                            return (v > 0 && Math.abs(k - Math.round(k)) < 1e-6) ? v.toFixed(2) : '';
                        }
                    },
                    title: {display: p.xTitle !== false, text: 'Minutes', color: '#111',
                            font: {family: FONT, size: 11, lineHeight: 1}, padding: {top: 0, bottom: p.xTitlePad || 0}}
                },
                y: {
                    type: 'linear', min: p.y[0], max: p.y[1],
                    afterFit(s) { s.width = padL; },
                    grid: {drawOnChartArea: false, tickLength: 4, color: '#000'},
                    border: {color: '#000'},
                    ticks: {stepSize: p.yStep, includeBounds: false, padding: 1, color: '#111', font: tickFont,
                            callback: v => v.toFixed(2)},
                    title: {display: true, text: 'mV', color: '#111',
                            font: {family: FONT, size: 11, lineHeight: 1}, padding: {top: p.yTitlePad, bottom: 0}}
                }
            }
        },
        plugins: [decor]
    });
});
</script>
</body>
</html>
